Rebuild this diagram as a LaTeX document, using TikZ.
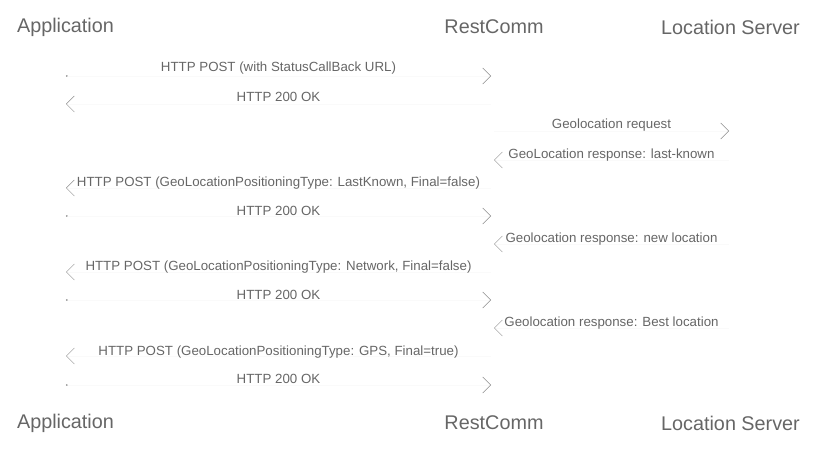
\documentclass[tikz,border=0pt]{standalone}
\usepackage{fontspec}
\setmainfont{Liberation Sans}
\usetikzlibrary{arrows.meta}
\begin{document}
\begin{tikzpicture}[x=1pt,y=-1pt,
  actor/.style={font=\fontsize{19.8}{23}\selectfont, text=black!60, inner sep=0pt},
  msgtext/.style={font=\fontsize{13.3}{16}\selectfont, text=black!60, inner sep=0pt},
  msg/.style={draw=black!2, line width=0.2pt,
    -{Straight Barb[length=8pt,width=16pt,line width=0.5pt,color=black!45]}},
  msgdot/.style={msg, {Circle[length=1.6pt,color=black!45]}-{Straight Barb[length=8pt,width=16pt,line width=0.5pt,color=black!45]}}]
\useasboundingbox (0,0) rectangle (817,449);
% actors
\node[actor] (appT) at (65.5,27) {Application};
\node[actor] (rcT)  at (494,27) {RestComm};
\node[actor] (lsT)  at (730.5,27) {Location Server};
\node[actor] (appB) at (65.5,423) {Application};
\node[actor] (rcB)  at (494,423) {RestComm};
\node[actor] (lsB)  at (730.5,423) {Location Server};
% lifeline x positions
\coordinate (AL) at (66,0);
\coordinate (RL) at (491,0);
\coordinate (RLr) at (494,0);
\coordinate (LL) at (729,0);
% messages
\draw[msgdot] (AL |- 0,76) -- node[msgtext, midway, yshift=8pt] {HTTP POST (with StatusCallBack URL)} (RL |- 0,76);
\draw[msg] (RL |- 0,104) -- node[msgtext, midway, yshift=7pt] {HTTP 200 OK} (AL |- 0,104);
\draw[msg] (RLr |- 0,131) -- node[msgtext, midway, yshift=6pt] {Geolocation request} (LL |- 0,131);
\draw[msg] (LL |- 0,160) -- node[msgtext, midway, yshift=5pt] {GeoLocation response: last-known} (RLr |- 0,160);
\draw[msg] (RL |- 0,188) -- node[msgtext, midway, yshift=5pt] {HTTP POST (GeoLocationPositioningType: LastKnown, Final=false)} (AL |- 0,188);
\draw[msgdot] (AL |- 0,216) -- node[msgtext, midway, yshift=5pt] {HTTP 200 OK} (RL |- 0,216);
\draw[msg] (LL |- 0,244) -- node[msgtext, midway, yshift=5pt] {Geolocation response: new location} (RLr |- 0,244);
\draw[msg] (RL |- 0,272) -- node[msgtext, midway, yshift=5pt] {HTTP POST (GeoLocationPositioningType: Network, Final=false)} (AL |- 0,272);
\draw[msgdot] (AL |- 0,300) -- node[msgtext, midway, yshift=5pt] {HTTP 200 OK} (RL |- 0,300);
\draw[msg] (LL |- 0,328) -- node[msgtext, midway, yshift=5pt] {Geolocation response: Best location} (RLr |- 0,328);
\draw[msg] (RL |- 0,356) -- node[msgtext, midway, yshift=4pt] {HTTP POST (GeoLocationPositioningType: GPS, Final=true)} (AL |- 0,356);
\draw[msgdot] (AL |- 0,385) -- node[msgtext, midway, yshift=6pt] {HTTP 200 OK} (RL |- 0,385);
\end{tikzpicture}
\end{document}
